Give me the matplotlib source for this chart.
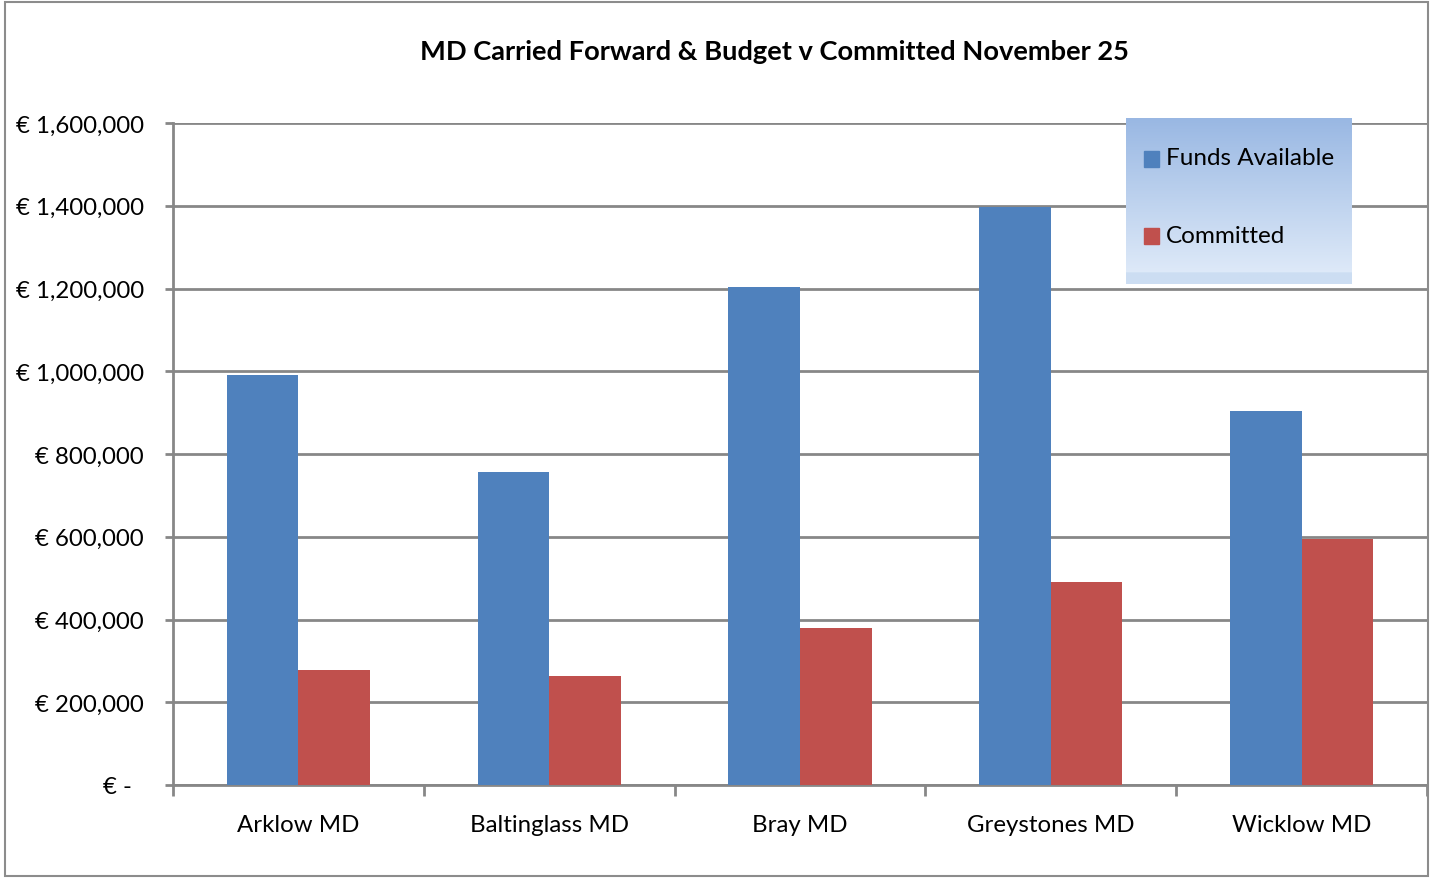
import matplotlib.pyplot as plt
import numpy as np
from matplotlib.patches import Rectangle

# chart data
districts = ["Arklow MD", "Baltinglass MD", "Bray MD", "Greystones MD", "Wicklow MD"]
funds_available = [990000, 756000, 1204000, 1397000, 904000]
committed = [278000, 263000, 379000, 491000, 594000]
y_ticks = [0, 200000, 400000, 600000, 800000, 1000000, 1200000, 1400000, 1600000]

plt.rcParams['font.family'] = ['Lato', 'DejaVu Sans']

blue = "#4F81BD"
red = "#C0504D"
grid_grey = "#878787"

fig = plt.figure(figsize=(14.34, 8.79), dpi=100)

# outer chart border
fig.patches.append(Rectangle((5 / 1434, 2 / 879), 1423 / 1434, 874 / 879,
                             transform=fig.transFigure, fill=False,
                             edgecolor="#8c8c8c", linewidth=1.5))

ax = fig.add_axes([173 / 1434, 1 - 786 / 879, (1427 - 173) / 1434, (786 - 124) / 879])

x = np.arange(len(districts))
width = 1 / 3.5
ax.bar(x - width / 2, funds_available, width, color=blue, label="Funds Available", zorder=3)
ax.bar(x + width / 2, committed, width, color=red, label="Committed", zorder=3)

ax.set_xlim(-0.5, len(districts) - 0.5)
ax.set_ylim(0, 1600000)
ax.set_yticks(y_ticks)
ax.set_yticklabels(["€ -  "] + [f"€ {v:,}" for v in y_ticks[1:]], fontsize=17.3)
ax.set_xticks(x)
ax.set_xticklabels(districts, fontsize=17.3)
ax.set_xticks(np.arange(-0.5, len(districts)), minor=True)
ax.tick_params(axis="x", which="major", length=0, pad=21)
ax.tick_params(axis="x", which="minor", length=8, width=2, color=grid_grey)
ax.tick_params(axis="y", length=6, width=2, color=grid_grey, pad=15)

ax.grid(axis="y", color=grid_grey, linewidth=2, zorder=0)
for side in ["top", "right"]:
    ax.spines[side].set_visible(False)
for side in ["left", "bottom"]:
    ax.spines[side].set_color(grid_grey)
    ax.spines[side].set_linewidth(2)

fig.text(0.5 * (422 + 1126) / 1434, 1 - 52 / 879,
         "MD Carried Forward & Budget v Committed November 25",
         ha="center", va="center", fontsize=19.6, fontweight="bold")

# legend box with gradient fill
lax = fig.add_axes([1126 / 1434, 1 - 285 / 879, (1352 - 1126) / 1434, (285 - 119) / 879], zorder=5)
grad = np.linspace(0, 1, 256).reshape(-1, 1)
top = np.array([0.60, 0.72, 0.89])
bottom = np.array([0.89, 0.93, 0.98])
img = top + (bottom - top) * grad[:, :, None]
img[-18:] = np.array([0.80, 0.87, 0.95])
lax.imshow(img, aspect="auto", extent=[0, 1, 0, 1])
lax.set_axis_off()
lax.add_patch(Rectangle((0.08, 0.705), 0.065, 0.095, color=blue))
lax.add_patch(Rectangle((0.08, 0.24), 0.065, 0.095, color=red))
lax.text(0.175, 0.76, "Funds Available", fontsize=17.5, va="center")
lax.text(0.175, 0.295, "Committed", fontsize=17.5, va="center")

fig.savefig("out.png", dpi=100)
